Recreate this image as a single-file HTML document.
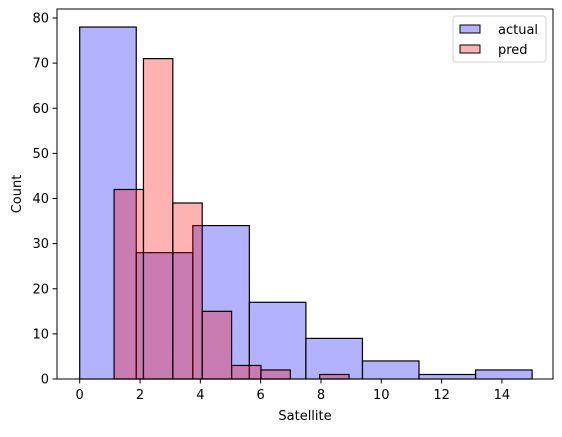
<!DOCTYPE html>
<html><head><meta charset="utf-8"><style>
body{margin:0;background:#fff}
text{font-family:"DejaVu Sans","Liberation Sans",sans-serif;font-size:13px;fill:#000}
</style></head><body>
<svg id="chart" width="562" height="432" xmlns="http://www.w3.org/2000/svg">
<g id="bars"></g>
<rect x="57" y="9" width="496" height="370" fill="none" stroke="#000" stroke-width="1"/>
<g id="axes"></g>
<text x="305" y="420" text-anchor="middle">Satellite</text>
<text transform="translate(21,194) rotate(-90)" text-anchor="middle">Count</text>
<g>
<rect x="453" y="16" width="93" height="46" rx="3" fill="#fff" stroke="#ccc" opacity="0.9"/>
<g><rect x="460" y="25" width="20" height="8" fill="rgba(0,0,255,0.3)" stroke="#000"/><text x="498" y="34">actual</text></g>
<g><rect x="460" y="45" width="20" height="8" fill="rgba(255,0,0,0.3)" stroke="#000"/><text x="498" y="54">pred</text></g>
</g>
</svg>
<script>
const actualStart = 0, actualWidth = 1.875;
const actualCounts = [78, 28, 34, 17, 9, 4, 1, 2];
const predStart = 1.14, predWidth = 0.974;
const predCounts = [42, 71, 39, 15, 3, 2, 0, 1];
const xTicks = [0, 2, 4, 6, 8, 10, 12, 14];
const yTicks = [0, 10, 20, 30, 40, 50, 60, 70, 80];
const ns = "http://www.w3.org/2000/svg";
function xs(v){return 79.7 + v*30.16;}
function ys(v){return 379 - v*4.5125;}
const bars = document.getElementById('bars');
function drawSeries(start, w, counts, fill, name){
  counts.forEach((c,i)=>{
    if(c<=0) return;
    const r = document.createElementNS(ns,'rect');
    const x0 = xs(start+i*w), x1 = xs(start+(i+1)*w);
    r.setAttribute('x', x0); r.setAttribute('y', ys(c));
    r.setAttribute('width', x1-x0); r.setAttribute('height', ys(0)-ys(c));
    r.setAttribute('fill', fill); r.setAttribute('stroke', '#000'); r.setAttribute('stroke-width', '1.2');
    
    
    bars.appendChild(r);
  });
}
drawSeries(actualStart, actualWidth, actualCounts, 'rgba(0,0,255,0.3)', 'actual');
drawSeries(predStart, predWidth, predCounts, 'rgba(255,0,0,0.3)', 'pred');
const axes = document.getElementById('axes');
xTicks.forEach(t=>{
  const l = document.createElementNS(ns,'line');
  l.setAttribute('x1', xs(t)); l.setAttribute('x2', xs(t)); l.setAttribute('y1', 379); l.setAttribute('y2', 383.5); l.setAttribute('stroke', '#000');
  
  
  axes.appendChild(l);
  const tx = document.createElementNS(ns,'text');
  tx.setAttribute('x', xs(t)); tx.setAttribute('y', 399); tx.setAttribute('text-anchor', 'middle'); tx.textContent = t;
  
  
  axes.appendChild(tx);
});
yTicks.forEach(t=>{
  const l = document.createElementNS(ns,'line');
  l.setAttribute('x1', 52.5); l.setAttribute('x2', 57); l.setAttribute('y1', ys(t)); l.setAttribute('y2', ys(t)); l.setAttribute('stroke', '#000');
  
  
  axes.appendChild(l);
  const tx = document.createElementNS(ns,'text');
  tx.setAttribute('x', 49); tx.setAttribute('y', ys(t)+4.5); tx.setAttribute('text-anchor', 'end'); tx.textContent = t;
  
  
  axes.appendChild(tx);
});
</script>
</body></html>
